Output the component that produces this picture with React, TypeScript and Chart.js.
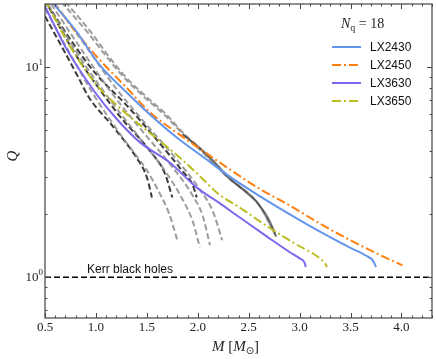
import React, { useEffect, useRef } from "react";
import { Chart, registerables } from "chart.js";
Chart.register(...registerables);

// ---- axis ranges and ticks ----
const X_MIN = 0.5;
const X_MAX = 4.3;
const Y_MIN = 0.64;
const Y_MAX = 20;
const xTicks = [0.5, 1.0, 1.5, 2.0, 2.5, 3.0, 3.5, 4.0];
const yTicks = [1, 10];
const yTickExp = ["0", "1"];

// ---- coloured series (N_q = 18) ----
const lx2430M = [0.53, 0.8, 1.04, 1.3, 1.53, 1.8, 2.05, 2.3, 2.6, 2.9, 3.2, 3.5, 3.65, 3.72, 3.75];
const lx2430Q = [21.5, 15, 10.2, 7.6, 5.95, 4.6, 3.75, 3.05, 2.45, 2.0, 1.65, 1.38, 1.27, 1.2, 1.12];
const lx2450M = [0.55, 0.8, 1.04, 1.3, 1.53, 1.79, 2.05, 2.32, 2.6, 2.9, 3.2, 3.5, 3.8, 4.01];
const lx2450Q = [21.5, 14.8, 10.8, 8.0, 6.1, 4.9, 4.0, 3.25, 2.65, 2.2, 1.8, 1.5, 1.27, 1.14];
const lx3630M = [0.5, 0.7, 1.0, 1.2, 1.43, 1.73, 2.0, 2.2, 2.41, 2.69, 2.9, 3.0, 3.05, 3.06];
const lx3630Q = [19.5, 12.5, 7.5, 5.7, 4.4, 3.5, 2.65, 2.28, 1.93, 1.55, 1.32, 1.23, 1.17, 1.12];
const lx3650M = [0.5, 0.75, 1.01, 1.25, 1.5, 1.8, 2.0, 2.2, 2.41, 2.69, 2.95, 3.18, 3.25, 3.27];
const lx3650Q = [21, 12.5, 8.2, 6.3, 5.0, 3.8, 3.1, 2.5, 2.15, 1.74, 1.45, 1.25, 1.16, 1.12];

// ---- other models (grey / black) ----
const darkM = [1.85, 2.0, 2.15, 2.3, 2.45, 2.59, 2.68, 2.74, 2.77];
const darkQ = [4.8, 4.2, 3.6, 3.0, 2.6, 2.25, 1.95, 1.7, 1.56];
const greyAM = [0.7, 0.96, 1.13, 1.3, 1.5, 1.7, 1.85, 2.0, 2.29, 2.59, 2.76];
const greyAQ = [20.5, 14.5, 11.2, 8.9, 7.2, 5.9, 4.9, 4.2, 3.0, 2.25, 1.6];
const greyBM = [0.66, 0.92, 1.1, 1.27, 1.47, 1.67, 1.83, 2.0, 2.29, 2.59, 2.76];
const greyBQ = [20.5, 14.6, 11.3, 9.0, 7.25, 5.95, 4.95, 4.15, 3.0, 2.25, 1.6];
const grey1M = [0.5, 0.75, 0.97, 1.26, 1.5, 1.61, 1.72, 1.8];
const grey1Q = [19, 11.5, 7.5, 4.64, 3.23, 2.6, 2.0, 1.5];
const grey2M = [0.53, 0.8, 1.1, 1.4, 1.7, 1.85, 1.95, 2.02];
const grey2Q = [20, 12, 7.4, 4.8, 3.1, 2.35, 1.85, 1.39];
const grey3M = [0.56, 0.85, 1.15, 1.45, 1.75, 1.95, 2.05, 2.12];
const grey3Q = [20, 12.3, 7.6, 5.0, 3.35, 2.45, 1.95, 1.42];
const grey4M = [0.6, 0.9, 1.2, 1.5, 1.8, 2.0, 2.15, 2.24];
const grey4Q = [20, 12.6, 7.9, 5.3, 3.6, 2.7, 2.05, 1.5];
const black1M = [0.5, 0.67, 0.83, 0.93, 1.17, 1.4, 1.5, 1.55];
const black1Q = [17.5, 12.4, 8.9, 7.2, 5.2, 3.7, 3.0, 2.4];
const black2M = [0.5, 0.6, 0.8, 1.04, 1.24, 1.53, 1.68, 1.75];
const black2Q = [21, 17, 11.5, 7.8, 5.8, 4.0, 3.1, 2.4];
const black3M = [0.52, 0.8, 1.0, 1.3, 1.6, 1.85, 1.95, 1.99];
const black3Q = [20, 12.5, 9.3, 6.6, 4.5, 3.2, 2.75, 2.4];

// ---- Kerr reference ----
const kerrM = [0.5, 4.3];
const kerrQ = [1, 1];

const legendTitle = "18";
const legendLabels = ["LX2430", "LX2450", "LX3630", "LX3650"];
const legendColors = ["#6495ed", "#ff7f0e", "#7b68ee", "#bcbd22"];
const legendDashes = [[], [9, 3, 2, 3], [], [9, 3, 2, 3]];
const kerrLabel = "Kerr black holes";

const pts = (m: number[], q: number[]) => m.map((x, i) => ({ x, y: q[i] }));

const SERIF = '"Liberation Serif", "DejaVu Serif", serif';
const SANS = '"Liberation Sans", Arial, sans-serif';

const decorPlugin = {
  id: "decor",
  afterDraw(chart: any) {
    const ctx = chart.ctx;
    const { left, right, top, bottom } = chart.chartArea;
    const xs = chart.scales.x;
    const ys = chart.scales.y;
    ctx.save();
    // frame
    ctx.strokeStyle = "#444";
    ctx.lineWidth = 1.2;
    ctx.strokeRect(left, top, right - left, bottom - top);
    // x ticks
    ctx.lineWidth = 1;
    for (let i = 5; i <= 43; i++) {
      const v = i / 10;
      const px = Math.round(xs.getPixelForValue(v)) + 0.5;
      const major = i % 5 === 0;
      const len = major ? 5 : 2.5;
      ctx.beginPath();
      ctx.moveTo(px, bottom);
      ctx.lineTo(px, bottom - len);
      ctx.moveTo(px, top);
      ctx.lineTo(px, top + len);
      ctx.stroke();
    }
    // y ticks
    for (let d = -1; d <= 1; d++) {
      for (let k = 1; k <= 9; k++) {
        const v = k * Math.pow(10, d);
        if (v <= Y_MIN || v >= Y_MAX) continue;
        const py = Math.round(ys.getPixelForValue(v)) + 0.5;
        const len = k === 1 ? 5 : 2.5;
        ctx.beginPath();
        ctx.moveTo(left, py);
        ctx.lineTo(left + len, py);
        ctx.moveTo(right, py);
        ctx.lineTo(right - len, py);
        ctx.stroke();
      }
    }
    // x labels
    ctx.fillStyle = "#222";
    ctx.font = `13px ${SERIF}`;
    ctx.textAlign = "center";
    ctx.textBaseline = "middle";
    xTicks.forEach((v) => {
      ctx.fillText(v.toFixed(1), xs.getPixelForValue(v), bottom + 10);
    });
    // y labels 10^n
    yTicks.forEach((v, i) => {
      const py = ys.getPixelForValue(v);
      ctx.font = `9px ${SERIF}`;
      const sw = ctx.measureText(yTickExp[i]).width;
      ctx.textAlign = "right";
      ctx.textBaseline = "middle";
      ctx.fillText(yTickExp[i], left - 2, py - 5);
      ctx.font = `13px ${SERIF}`;
      ctx.fillText("10", left - 2 - sw, py);
    });
    // axis titles
    ctx.font = `italic 15px ${SERIF}`;
    ctx.textAlign = "left";
    ctx.textBaseline = "alphabetic";
    let x = 212;
    const by = 351;
    ctx.fillText("M", x, by);
    x += ctx.measureText("M").width;
    ctx.font = `15px ${SERIF}`;
    ctx.fillText(" [", x, by);
    x += ctx.measureText(" [").width;
    ctx.font = `italic 15px ${SERIF}`;
    ctx.fillText("M", x, by);
    x += ctx.measureText("M").width;
    ctx.font = `10px ${"DejaVu Sans"}`;
    ctx.fillText("\u2299", x, by + 3);
    x += ctx.measureText("\u2299").width;
    ctx.font = `15px ${SERIF}`;
    ctx.fillText("]", x, by);

    ctx.save();
    ctx.translate(17, 156);
    ctx.rotate(-Math.PI / 2);
    ctx.font = `italic 15px ${SERIF}`;
    ctx.textAlign = "center";
    ctx.fillText("Q", 0, 0);
    ctx.restore();

    // Kerr label
    ctx.font = `12px ${SANS}`;
    ctx.fillStyle = "#111";
    ctx.textAlign = "left";
    ctx.textBaseline = "alphabetic";
    ctx.fillText(kerrLabel, 87, ys.getPixelForValue(1) - 4);

    // legend title N_q = 18
    ctx.fillStyle = "#222";
    let tx = 341;
    const ty = 28;
    ctx.font = `italic 14px ${SERIF}`;
    ctx.fillText("N", tx, ty);
    tx += ctx.measureText("N").width;
    ctx.font = `10px ${SERIF}`;
    ctx.fillText("q", tx, ty + 3);
    tx += ctx.measureText("q").width;
    ctx.font = `14px ${SERIF}`;
    ctx.fillText(" = " + legendTitle, tx, ty);

    // legend entries
    legendLabels.forEach((lab, i) => {
      const yy = 47 + i * 18;
      ctx.strokeStyle = legendColors[i];
      ctx.lineWidth = 2;
      ctx.setLineDash(legendDashes[i]);
      ctx.beginPath();
      ctx.moveTo(332, yy);
      ctx.lineTo(361, yy);
      ctx.stroke();
      ctx.setLineDash([]);
      ctx.fillStyle = "#111";
      ctx.font = `12px ${SANS}`;
      ctx.textBaseline = "middle";
      ctx.fillText(lab, 370, yy + 0.5);
    });
    ctx.restore();
  },
};

export default function App() {
  const ref = useRef<HTMLCanvasElement | null>(null);
  useEffect(() => {
    if (!ref.current) return;
    const solid = (data: any, color: string, w = 2) => ({
      data,
      borderColor: color,
      borderWidth: w,
      pointRadius: 0,
      fill: false,
      cubicInterpolationMode: "monotone",
    });
    const dash = (data: any, color: string, d: number[], w = 2) => ({
      ...solid(data, color, w),
      borderDash: d,
    });
    const grey = "rgba(140,140,140,0.85)";
    const blk = "rgba(25,25,25,0.85)";
    const chart = new Chart(ref.current, {
      type: "line",
      data: {
        datasets: [
          solid(pts(lx2430M, lx2430Q), legendColors[0]),
          dash(pts(lx2450M, lx2450Q), legendColors[1], legendDashes[1]),
          solid(pts(lx3630M, lx3630Q), legendColors[2]),
          dash(pts(lx3650M, lx3650Q), legendColors[3], legendDashes[3]),
          dash(pts(kerrM, kerrQ), "#000", [6, 3], 1.6),
          solid(pts(darkM, darkQ), "rgba(60,60,60,0.7)", 2),
          dash(pts(greyAM, greyAQ), grey, [6, 3]),
          dash(pts(greyBM, greyBQ), grey, [6, 3]),
          dash(pts(grey1M, grey1Q), grey, [6, 3]),
          dash(pts(grey2M, grey2Q), grey, [6, 3]),
          dash(pts(grey3M, grey3Q), grey, [6, 3]),
          dash(pts(grey4M, grey4Q), grey, [6, 3]),
          dash(pts(black1M, black1Q), blk, [6, 3]),
          dash(pts(black2M, black2Q), blk, [6, 3]),
          dash(pts(black3M, black3Q), blk, [6, 3]),
        ] as any,
      },
      options: {
        animation: false,
        responsive: false,
        layout: { padding: { top: 4, right: 4, left: 0, bottom: 0 } },
        plugins: { legend: { display: false }, tooltip: { enabled: false } },
        scales: {
          x: {
            type: "linear",
            min: X_MIN,
            max: X_MAX,
            bounds: "data",
            grid: { display: false, drawTicks: false },
            border: { display: false },
            ticks: { display: false },
            afterFit: (s: any) => {
              s.height = 41;
            },
          },
          y: {
            type: "logarithmic",
            min: Y_MIN,
            max: Y_MAX,
            bounds: "data",
            grid: { display: false, drawTicks: false },
            border: { display: false },
            ticks: { display: false },
            afterFit: (s: any) => {
              s.width = 45;
            },
          },
        },
      } as any,
      plugins: [decorPlugin],
    });
    return () => chart.destroy();
  }, []);
  return (
    <div style={{ position: "fixed", left: 0, top: 0, width: 436, height: 359, background: "#fff" }}>
      <canvas ref={ref} width={436} height={359} style={{ display: "block" }} />
    </div>
  );
}
